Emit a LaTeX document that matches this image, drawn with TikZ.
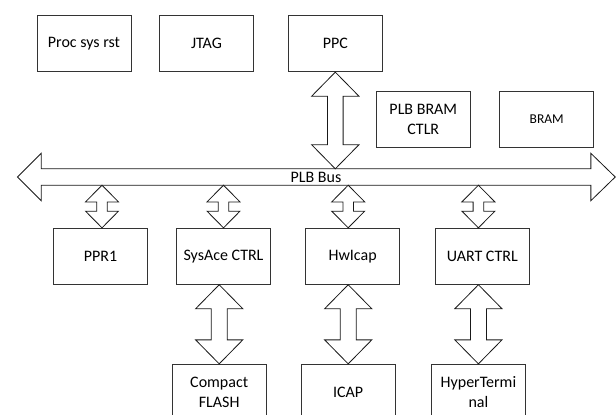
\documentclass[tikz,border=0pt]{standalone}
\usepackage{fontspec}
\setmainfont{Carlito}
\usetikzlibrary{calc}
% #1 top tip, #2 bottom tip, #3 head half-width, #4 shaft half-width, #5 head length
\newcommand{\vdarrow}[5]{%
  \draw[arr] (#1) -- ++(#3,#5) -- ++({-(#3-#4)},0) -- ($(#2)+(#4,-#5)$)
    -- ++({#3-#4},0) -- (#2) -- ++(-#3,-#5) -- ++({#3-#4},0)
    -- ($(#1)+(-#4,#5)$) -- ++({-(#3-#4)},0) -- cycle;}
\begin{document}
\begin{tikzpicture}[x=1pt,y=-1pt,
  blk/.style={draw=black!80, line width=0.9pt, minimum width=94pt, minimum height=56pt,
    inner sep=0pt, align=center, font=\fontsize{16}{20}\selectfont},
  arr/.style={draw=black!90, line width=0.8pt, line join=miter, fill=white}]
\useasboundingbox (0,0) rectangle (616,415);
\clip (0,0) rectangle (616,415);
% top row
\node[blk] (proc) at (84,43.7) {Proc sys rst};
\node[blk] (jtag) at (206.5,43.7) {JTAG};
\node[blk] (ppc)  at (335.3,43.7) {PPC};
\node[blk] (bramctlr) at (423.3,119.5) {PLB BRAM\\CTLR};
\node[blk, font=\fontsize{13.5}{16}\selectfont] (bram) at (546.7,119.5) {BRAM};
% bus
\node[minimum width=549.3pt, minimum height=16pt, inner sep=0pt,
  font=\fontsize{16}{20}\selectfont] (bus) at (316,177) {};
\draw[arr] (bus.north west) -- (bus.north east) -- ++(0,-15.5)
  -- ($(bus.east)+(24.4,0)$) -- ($(bus.south east)+(0,15.5)$) -- (bus.south east)
  -- (bus.south west) -- ++(0,15.5) -- ($(bus.west)+(-23.6,0)$)
  -- ($(bus.north west)+(0,-15.5)$) -- cycle;
\node[font=\fontsize{16}{20}\selectfont, inner sep=0pt] (buslabel) at (bus.center) {PLB Bus};
% second row
\node[blk] (ppr)    at (100.5,256.3) {PPR1};
\node[blk] (sysace) at (223.5,256.3) {SysAce CTRL};
\node[blk] (hwicap) at (352.6,256.3) {HwIcap};
\node[blk] (uart)   at (482.3,256.3) {UART CTRL};
% bottom row
\node[blk] (cf)    at (219.2,392.3) {Compact\\FLASH};
\node[blk] (icap)  at (348.2,392.3) {ICAP};
\node[blk] (hyper) at (478.4,392.3) {HyperTermi\\nal};
% connectors
\vdarrow{ppc.south}{ppc.south |- bus.north}{23.6}{7.8}{24}
\coordinate (a1) at ($(ppr.north)+(1.5,0)$);
\vdarrow{a1 |- bus.south}{a1}{16.5}{5.3}{16.7}
\vdarrow{sysace.north |- bus.south}{sysace.north}{16.5}{5.3}{16.7}
\coordinate (a3) at (icap.north |- hwicap.north);
\vdarrow{a3 |- bus.south}{a3}{16.5}{5.3}{16.7}
\coordinate (a4) at (hyper.north |- uart.north);
\vdarrow{a4 |- bus.south}{a4}{16.5}{5.3}{16.7}
\vdarrow{cf.north |- sysace.south}{cf.north}{23.6}{8}{24}
\vdarrow{icap.north |- hwicap.south}{icap.north}{23.6}{8}{24}
\vdarrow{hyper.north |- uart.south}{hyper.north}{23.6}{8}{24}
\end{tikzpicture}
\end{document}
